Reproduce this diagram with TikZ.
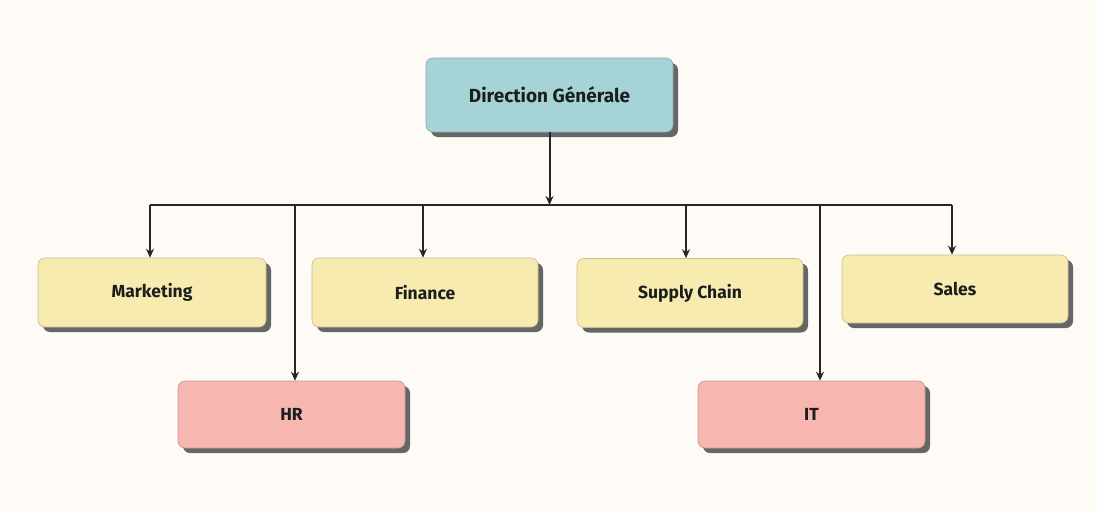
\documentclass[tikz,border=0pt]{standalone}
\usepackage{fontspec}
\setmainfont{Fira Sans}
\usetikzlibrary{shadows,arrows.meta}
\definecolor{bgc}{HTML}{FEFBF7}
\definecolor{blueb}{HTML}{A6D4D6}
\definecolor{yellb}{HTML}{F8EBAF}
\definecolor{pinkb}{HTML}{F8B6B1}
\definecolor{txtc}{HTML}{1A1E1E}
\tikzset{
  box/.style={rounded corners=7pt, draw=#1!80!black, line width=0.6pt, fill=#1,
    drop shadow={shadow xshift=5pt, shadow yshift=-5pt, fill=black!60, opacity=1},
    font=\bfseries\fontsize{17.5}{20}\selectfont, text=txtc, inner sep=0pt},
  conn/.style={line width=2pt, draw=black!85},
  arr/.style={conn, -{Stealth[length=9pt,width=8pt]}}
}
\begin{document}
\begin{tikzpicture}[x=1pt,y=-1pt]
\path[fill=bgc] (0,0) rectangle (1097,512);
\useasboundingbox (0,0) rectangle (1097,512);
\node[box=blueb, minimum width=247pt, minimum height=74pt, font=\bfseries\fontsize{19}{22}\selectfont] (dg) at (549.5,95) {Direction Générale};
\node[box=yellb, minimum width=228pt, minimum height=69pt] (mk) at (152,292.5) {Marketing};
\node[box=yellb, minimum width=226pt, minimum height=69pt] (fi) at (425,292.5) {Finance};
\node[box=yellb, minimum width=226pt, minimum height=69pt] (sc) at (690,293) {Supply Chain};
\node[box=yellb, minimum width=226pt, minimum height=68pt] (sa) at (955,289) {Sales};
\node[box=pinkb, minimum width=227pt, minimum height=67pt] (hr) at (291.5,414.5) {HR};
\node[box=pinkb, minimum width=227pt, minimum height=67pt] (it) at (811.5,414.5) {IT};
\coordinate (bus) at (549.5,205);
\coordinate (b1) at (150,205);
\coordinate (b2) at (295,205);
\coordinate (b3) at (423,205);
\coordinate (b4) at (686,205);
\coordinate (b5) at (820,205);
\coordinate (b6) at (952,205);
\draw[arr] (dg.south) -- (bus);
\draw[conn] (b1) -- (b6);
\draw[arr] (b1) -- (b1 |- mk.north);
\draw[arr] (b2) -- (b2 |- hr.north);
\draw[arr] (b3) -- (b3 |- fi.north);
\draw[arr] (b4) -- (b4 |- sc.north);
\draw[arr] (b5) -- (b5 |- it.north);
\draw[arr] (b6) -- (b6 |- sa.north);
\end{tikzpicture}
\end{document}
